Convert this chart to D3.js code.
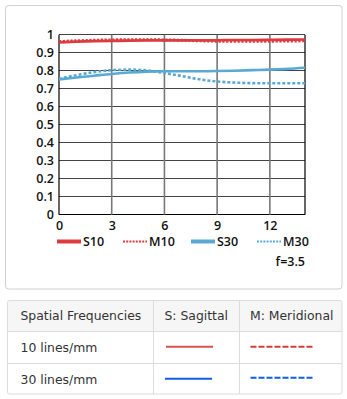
<!DOCTYPE html>
<html><head><meta charset="utf-8">
<script src="https://cdn.jsdelivr.net/npm/d3@7"></script>
<style>
html,body{margin:0;padding:0;background:#fff;}
svg{display:block;}
</style></head>
<body>
<script>
// ---- data ----
const positions = [0,1,2,3,4,5,6,7,8,9,10,11,12,13,14];
const S10 = [0.957,0.961,0.964,0.966,0.967,0.968,0.969,0.969,0.969,0.969,0.970,0.970,0.971,0.972,0.974];
const M10 = [0.962,0.966,0.969,0.971,0.972,0.972,0.971,0.969,0.966,0.964,0.963,0.963,0.964,0.965,0.966];
const S30 = [0.752,0.762,0.772,0.782,0.790,0.795,0.797,0.797,0.797,0.798,0.800,0.803,0.806,0.810,0.816];
const M30 = [0.755,0.775,0.792,0.803,0.806,0.802,0.787,0.770,0.752,0.740,0.734,0.731,0.730,0.730,0.730];
const xTicks = [0,3,6,9,12];
const yTicks = [0,0.1,0.2,0.3,0.4,0.5,0.6,0.7,0.8,0.9,1];
const legendLabels = ["S10","M10","S30","M30"];
const apertureLabel = "f=3.5";
const tableHeader = ["Spatial Frequencies","S: Sagittal","M: Meridional"];
const tableRows = ["10 lines/mm","30 lines/mm"];

const W = 347, H = 399;
const svg = d3.select("body").append("svg").attr("width", W).attr("height", H);

// card
svg.append("rect").attr("x",5.5).attr("y",5.5).attr("width",336.5).attr("height",283.5)
  .attr("rx",3).attr("fill","#fff").attr("stroke","#d0d0d0").attr("stroke-width",1);

const x = d3.scaleLinear().domain([0,14]).range([59,305]);
const y = d3.scaleLinear().domain([0,1]).range([214.7,34.7]);

const g = svg.append("g");
// horizontal grid
g.selectAll(".hg").data(yTicks).join("line")
  .attr("x1",x(0)).attr("x2",x(14)).attr("y1",d=>y(d)).attr("y2",d=>y(d))
  .attr("stroke",d=> d===0 ? "#000" : "#444").attr("stroke-width",1).attr("shape-rendering","crispEdges");
// vertical grid
g.selectAll(".vg").data(xTicks.filter(d=>d>0)).join("line")
  .attr("x1",d=>x(d)).attr("x2",d=>x(d)).attr("y1",y(0)).attr("y2",y(1))
  .attr("stroke","#777").attr("stroke-width",1.6);
// axes borders
g.append("line").attr("x1",x(0)).attr("x2",x(0)).attr("y1",y(0)).attr("y2",y(1)).attr("stroke","#000").attr("stroke-width",1.2);
g.append("line").attr("x1",x(14)).attr("x2",x(14)).attr("y1",y(0)).attr("y2",y(1)).attr("stroke","#000").attr("stroke-width",1.2);

const tickFont = "'Open Sans', sans-serif";
const yAxis = d3.axisLeft(y).tickValues(yTicks).tickSize(0).tickPadding(5)
  .tickFormat(d=> d===0 ? "0" : d===1 ? "1" : d3.format(".1f")(d).replace(/^0/,"0"));
const ya = svg.append("g").attr("transform",`translate(${x(0)},0)`).call(yAxis);
ya.select(".domain").remove();
ya.selectAll("text").attr("font-family",tickFont).attr("font-size",12.5).attr("font-weight",600).attr("fill","#111").attr("dy","0.3em");

const xAxis = d3.axisBottom(x).tickValues(xTicks).tickSize(0).tickPadding(6);
const xa = svg.append("g").attr("transform",`translate(0,${y(0)})`).call(xAxis);
xa.select(".domain").remove();
xa.selectAll("text").attr("font-family",tickFont).attr("font-size",12.5).attr("font-weight",600).attr("fill","#111");

// lines
const red = "#dc3c3f", blue = "#5aa9d3";
const line = d3.line().x((d,i)=>x(positions[i])).y(d=>y(d)).curve(d3.curveMonotoneX);
const series = [
  {v:S30,c:blue,w:2.6,dash:null},
  {v:M30,c:blue,w:2.6,dash:"3,2"},
  {v:M10,c:red,w:3,dash:"2.2,1.6"},
  {v:S10,c:red,w:2.8,dash:null}
];
svg.append("g").selectAll("path").data(series).join("path")
  .attr("d",d=>line(d.v)).attr("fill","none").attr("stroke",d=>d.c)
  .attr("stroke-width",d=>d.w).attr("stroke-dasharray",d=>d.dash);

// legend
const legItems = [
  {t:legendLabels[0],c:red,dash:null,w:4,x0:57},
  {t:legendLabels[1],c:red,dash:"2,1.2",w:2,x0:123},
  {t:legendLabels[2],c:blue,dash:null,w:4,x0:191},
  {t:legendLabels[3],c:blue,dash:"2,1.2",w:2,x0:257}
];
const lg = svg.append("g").selectAll("g").data(legItems).join("g");
lg.append("line").attr("x1",d=>d.x0).attr("x2",d=>d.x0+24).attr("y1",241.5).attr("y2",241.5)
  .attr("stroke",d=>d.c).attr("stroke-width",d=>d.w).attr("stroke-dasharray",d=>d.dash);
lg.append("text").attr("x",d=>d.x0+26).attr("y",246).text(d=>d.t)
  .attr("font-family",tickFont).attr("font-size",12.5).attr("font-weight",600).attr("fill","#111");
svg.append("text").attr("x",305).attr("y",266).attr("text-anchor","end").text(apertureLabel)
  .attr("font-family",tickFont).attr("font-size",12.5).attr("font-weight",600).attr("fill","#111");

// table
const tf = "'DejaVu Sans', Verdana, sans-serif";
const colX = [7.5,153.5,239.5,342];
const rowY = [300.5,331.5,363.5,394];
const tg = svg.append("g");
tg.append("rect").attr("x",colX[0]).attr("y",rowY[0]).attr("width",colX[3]-colX[0]).attr("height",rowY[1]-rowY[0]).attr("fill","#f6f6f6");
tg.append("rect").attr("x",colX[0]).attr("y",rowY[0]).attr("width",colX[3]-colX[0]).attr("height",rowY[3]-rowY[0])
  .attr("rx",2).attr("fill","none").attr("stroke","#dcdcdc");
tg.selectAll(".rl").data(rowY.slice(1,3)).join("line").attr("x1",colX[0]).attr("x2",colX[3]).attr("y1",d=>d).attr("y2",d=>d).attr("stroke","#dcdcdc");
tg.selectAll(".cl").data(colX.slice(1,3)).join("line").attr("x1",d=>d).attr("x2",d=>d).attr("y1",rowY[0]).attr("y2",rowY[3]).attr("stroke","#dcdcdc");
const hx = [20.5,164.5,250];
tg.selectAll(".ht").data(tableHeader).join("text").attr("x",(d,i)=>hx[i]).attr("y",319.5).text(d=>d)
  .attr("font-family",tf).attr("font-size",12.4).attr("fill","#333");
tg.selectAll(".rt").data(tableRows).join("text").attr("x",20.5).attr("y",(d,i)=>[352,383.5][i]).text(d=>d)
  .attr("font-family",tf).attr("font-size",12.4).attr("fill","#333");
const tRed = "#d9534f", tBlue = "#0f5fe0";
const swatches = [
  {x1:166,x2:213,y:346.7,c:tRed,dash:null},
  {x1:250.5,x2:313,y:346.7,c:"#d43f3a",dash:"6,2"},
  {x1:165,x2:212,y:378.7,c:tBlue,dash:null},
  {x1:250.5,x2:313,y:377.7,c:tBlue,dash:"6,2"}
];
tg.selectAll(".sw").data(swatches).join("line").attr("x1",d=>d.x1).attr("x2",d=>d.x2).attr("y1",d=>d.y).attr("y2",d=>d.y)
  .attr("stroke",d=>d.c).attr("stroke-width",2).attr("stroke-dasharray",d=>d.dash);
</script>
</body></html>
